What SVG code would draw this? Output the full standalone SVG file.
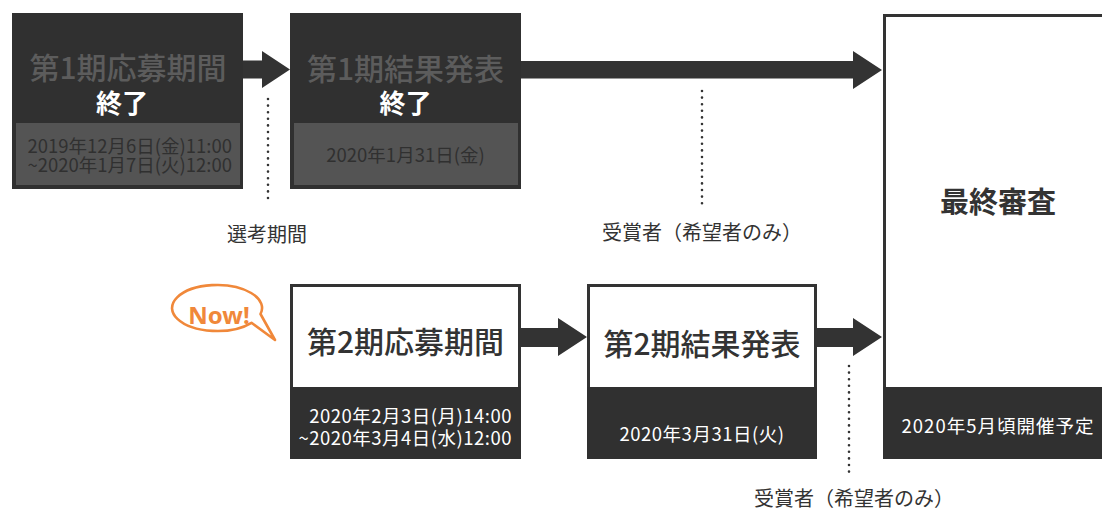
<svg xmlns="http://www.w3.org/2000/svg" width="1102" height="510" viewBox="0 0 1102 510">
<style>
text{font-family:"Noto Sans CJK JP","Noto Sans",sans-serif;text-anchor:middle;dominant-baseline:central}
.dark{fill:#303030}
.gray{fill:#545454}
.title1{font-size:30px;fill:#5c5c5c;font-weight:500}
.end{font-size:26px;fill:#ffffff;font-weight:700}
.date1{font-size:18.5px;fill:#303030}
.title2{font-size:30px;fill:#333333;font-weight:500}
.date2{font-size:18.5px;fill:#ffffff;letter-spacing:0.5px}
.frame{fill:#ffffff;stroke:#333333;stroke-width:3}
.arrow{fill:#333333}
.dots{stroke:#333333;stroke-width:2.6;stroke-linecap:round;stroke-dasharray:0 6.6;fill:none}
.label{font-size:20px;fill:#333333}
</style>
<rect width="1102" height="510" fill="#ffffff"/>

<g id="node-period1-apply">
<rect x="12" y="13" width="231" height="176" class="dark"/>
<rect x="16" y="123" width="224" height="62" class="gray"/>
<text><tspan x="128" y="66" class="title1">第1期応募期間</tspan><tspan x="122" y="101" class="end">終了</tspan></text>
<text class="date1" style="text-anchor:end"><tspan x="232" y="145">2019年12月6日(金)11:00</tspan><tspan x="232" y="164">~2020年1月7日(火)12:00</tspan></text>
</g>

<g id="node-period1-result">
<rect x="290" y="13" width="231" height="176" class="dark"/>
<rect x="294" y="123" width="224" height="62" class="gray"/>
<text><tspan x="405.5" y="67" class="title1">第1期結果発表</tspan><tspan x="405.5" y="101" class="end">終了</tspan></text>
<text x="405.5" y="154" class="date1">2020年1月31日(金)</text>
</g>

<g id="node-final">
<rect x="884.5" y="15.5" width="240" height="442" class="frame"/>
<rect x="883" y="387" width="240" height="72" class="dark"/>
<text x="998" y="200" style="font-size:29px;fill:#333333;font-weight:700">最終審査</text>
<text x="998" y="425" class="date2" style="letter-spacing:1px">2020年5月頃開催予定</text>
</g>

<g id="node-period2-apply">
<rect x="291.5" y="285.5" width="228" height="172" class="frame"/>
<rect x="290" y="387" width="231" height="72" class="dark"/>
<text x="405.5" y="340" class="title2">第2期応募期間</text>
<text class="date2" style="text-anchor:end"><tspan x="512" y="415">2020年2月3日(月)14:00</tspan><tspan x="512" y="437">~2020年3月4日(水)12:00</tspan></text>
</g>

<g id="node-period2-result">
<rect x="588.5" y="285.5" width="227" height="172" class="frame"/>
<rect x="587" y="387" width="230" height="72" class="dark"/>
<text x="702" y="342" class="title2">第2期結果発表</text>
<text x="702" y="433" class="date2">2020年3月31日(火)</text>
</g>

<g id="node-now">
<path d="M 251.5 322.8 A 45 23 0 1 1 260.5 314 L 275 340 Z" fill="#ffffff" stroke="#f0883a" stroke-width="2.6" stroke-linejoin="round"/>
<text x="219" y="314" style="font-family:'Noto Sans','Liberation Sans',sans-serif;font-size:24px;font-weight:700;fill:#f0883a">Now!</text>
</g>

<g id="connectors">
<polygon class="arrow" points="243,60.5 262,60.5 262,51 290,69.5 262,88 262,78.5 243,78.5"/>
<polygon class="arrow" points="521,61 853,61 853,51 882,70 853,89 853,78.5 521,78.5"/>
<polygon class="arrow" points="521,328 558,328 558,318 587,337 558,356 558,347 521,347"/>
<polygon class="arrow" points="817,328 853,328 853,318 882,337 853,356 853,347 817,347"/>
<line class="dots" x1="268" y1="99" x2="268" y2="201"/>
<line class="dots" x1="702" y1="91" x2="702" y2="207"/>
<line class="dots" x1="849" y1="366" x2="849" y2="473"/>
<text x="267" y="233" class="label">選考期間</text>
<text x="702" y="231" class="label">受賞者（希望者のみ）</text>
<text x="854" y="497" class="label">受賞者（希望者のみ）</text>
</g>
</svg>
